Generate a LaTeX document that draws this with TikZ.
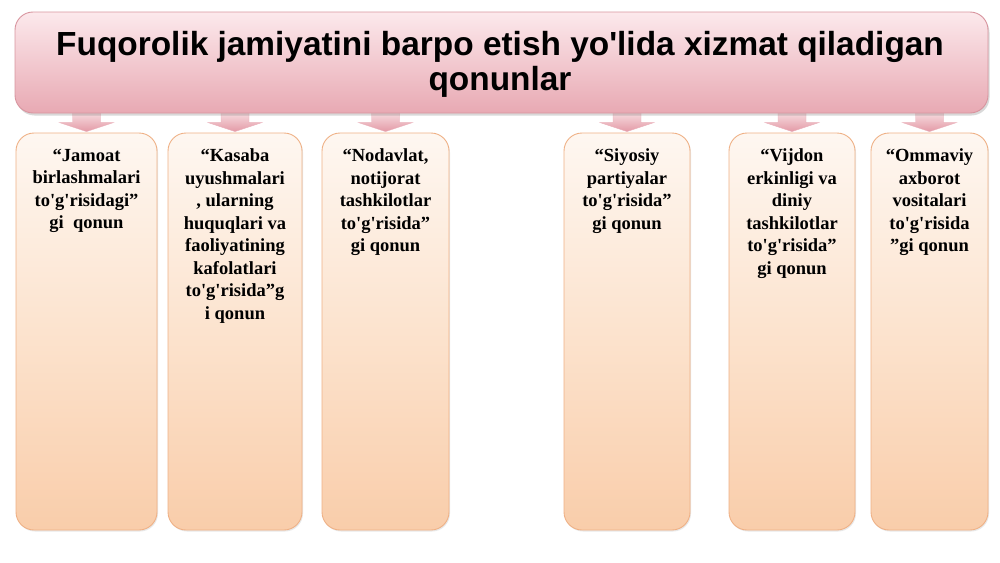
\documentclass[tikz,border=0pt]{standalone}
\usepackage{fontspec}
\setmainfont{Liberation Serif}[Ligatures=TeXOff]
\newfontfamily\titlefont{Liberation Sans}[Ligatures=TeXOff]
\usetikzlibrary{shadows,calc}
\definecolor{titletop}{HTML}{FCE9EC}
\definecolor{titlebot}{HTML}{E8A9B3}
\definecolor{titleborder}{HTML}{D8959F}
\definecolor{boxtop}{HTML}{FEF7F1}
\definecolor{boxmid}{HTML}{FCE3CE}
\definecolor{boxbot}{HTML}{F9CDAA}
\definecolor{boxborder}{HTML}{EFB186}
\definecolor{arrtop}{HTML}{FBEDEF}
\definecolor{arrbot}{HTML}{E39AA6}
\begin{document}
\begin{tikzpicture}[x=1pt,y=-1pt,
  titlebox/.style={draw=titleborder, line width=0.9pt, rounded corners=18pt,
    top color=titletop, bottom color=titlebot, minimum width=973pt,
    minimum height=101pt, inner sep=0pt,
    drop shadow={shadow xshift=1.5pt, shadow yshift=-2.5pt, opacity=0.25, fill=black!60}},
  titletext/.style={align=center, inner sep=0pt,
    font=\titlefont\bfseries\fontsize{33.4}{35}\selectfont},
  lawbox/.style={draw=boxborder, line width=0.9pt, rounded corners=18pt,
    top color=boxtop, bottom color=boxbot, middle color=boxmid,
    minimum height=397pt, inner sep=0pt,
    drop shadow={shadow xshift=1pt, shadow yshift=-1.5pt, opacity=0.15, fill=black!60}},
  lawtext/.style={anchor=north, align=center, inner sep=0pt,
    font=\bfseries\fontsize{18.5}{22.5}\selectfont},
  downarrow/.style={top color=arrtop, bottom color=arrbot, draw=arrbot!80!white, line width=0.4pt}
]
\useasboundingbox (0,0) rectangle (1000,562);

% boxes
\node[lawbox, minimum width=141pt] (b1) at (86.5,331.5) {};
\node[lawbox, minimum width=134pt] (b2) at (235,331.5) {};
\node[lawbox, minimum width=127pt] (b3) at (385.5,331.5) {};
\node[lawbox, minimum width=126pt] (b4) at (627,331.5) {};
\node[lawbox, minimum width=126pt] (b5) at (792,331.5) {};
\node[lawbox, minimum width=117pt] (b6) at (929.5,331.5) {};

% arrows (drawn under the title)
\foreach \b in {b1,b2,b3,b4,b5,b6}{
  \path[downarrow] ($(\b.north)+(-14,-25)$) -- ++(28,0) -- ++(0,15) -- ++(13,0)
    -- ($(\b.north)+(0,-1)$) -- ++(-27,-9) -- ++(13,0) -- cycle;
}

% title
\node[titlebox] (title) at (501.5,62.5) {};
\node[titletext] (tt) at (500,64.5) {Fuqorolik jamiyatini barpo etish yo'lida xizmat qiladigan\\qonunlar};

% texts
\node[lawtext] (t1) at ($(b1.north)+(0,16)$) {“Jamoat\\birlashmalari\\to'g'risidagi”\\gi\ \ qonun};
\node[lawtext] (t2) at ($(b2.north)+(0,16)$) {“Kasaba\\uyushmalari\\, ularning\\huquqlari va\\faoliyatining\\kafolatlari\\to'g'risida”g\\i qonun};
\node[lawtext] (t3) at ($(b3.north)+(0,16)$) {“Nodavlat,\\notijorat\\tashkilotlar\\to'g'risida”\\gi qonun};
\node[lawtext] (t4) at ($(b4.north)+(0,16)$) {“Siyosiy\\partiyalar\\to'g'risida”\\gi qonun};
\node[lawtext] (t5) at ($(b5.north)+(0,16)$) {“Vijdon\\erkinligi va\\diniy\\tashkilotlar\\to'g'risida”\\gi qonun};
\node[lawtext] (t6) at ($(b6.north)+(0,16)$) {“Ommaviy\\axborot\\vositalari\\to'g'risida\\”gi qonun};
\end{tikzpicture}
\end{document}
